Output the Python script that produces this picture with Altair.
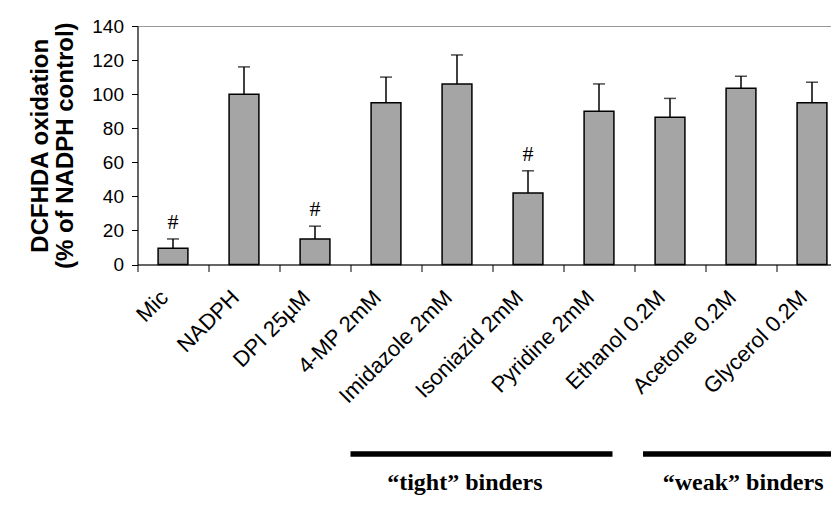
import altair as alt
import pandas as pd

# ---- data ----
categories = ["Mic", "NADPH", "DPI 25µM", "4-MP 2mM", "Imidazole 2mM",
              "Isoniazid 2mM", "Pyridine 2mM", "Ethanol 0.2M", "Acetone 0.2M",
              "Glycerol 0.2M"]
means = [9.5, 100, 15, 95, 106, 42, 90, 86.5, 103.5, 95]
errors = [5.5, 16, 7.5, 15, 17, 13, 16, 11, 7, 12]
signif = ["#", "", "#", "", "", "#", "", "", "", ""]
y_ticks = [0, 20, 40, 60, 80, 100, 120, 140]

group_names = ["“tight” binders", "“weak” binders"]
group_start = [3.0, 7.12]
group_end = [6.69, 10.5]
group_label_pos = [4.61, 8.53]
group_line_level = [-111.2, -111.2]
group_text_level = [-132.5, -132.5]

df = pd.DataFrame({"cat": categories, "mean": means, "err": errors, "sig": signif})
df["top"] = df["mean"] + df["err"]

ann = pd.DataFrame({"name": group_names, "x0": group_start, "x1": group_end,
                    "xt": group_label_pos, "yl": group_line_level,
                    "yt": group_text_level})

yscale = alt.Scale(domain=[0, 140], nice=False, zero=False)
yaxis = alt.Axis(values=y_ticks, grid=False, labelOverlap=False,
                 title=["DCFHDA oxidation", "(% of NADPH control)"],
                 titleFontSize=24, titleFontWeight="bold",
                 titleLineHeight=25, titlePadding=14,
                 labelFontSize=19, tickSize=6, labelPadding=8,
                 domainWidth=1, tickWidth=1)

base = alt.Chart(df).encode(
    x=alt.X("cat:N", sort=categories,
            scale=alt.Scale(paddingInner=0, paddingOuter=0),
            axis=alt.Axis(title=None, labelAngle=-45, labelFontSize=22,
                          tickSize=7, tickBand="extent", labelPadding=15,
                          labelOffset=-16, labelOverlap=False, domainWidth=1,
                          tickWidth=1))
)

bars = base.mark_bar(color="#a5a5a5", stroke="black", strokeWidth=1.5,
                     width=alt.RelativeBandSize(0.42)).encode(
    y=alt.Y("mean:Q", scale=yscale, axis=yaxis)
)
rules = base.mark_rule(color="black", strokeWidth=1.5).encode(
    y=alt.Y("mean:Q", scale=yscale, axis=yaxis), y2="top:Q")
caps = base.mark_tick(color="black", thickness=1.5, size=12).encode(
    y=alt.Y("top:Q", scale=yscale, axis=yaxis))
hashes = base.mark_text(font="Liberation Serif", fontSize=22,
                        baseline="bottom", dy=-5, color="black").encode(
    y=alt.Y("top:Q", scale=yscale, axis=yaxis), text="sig:N")

main = alt.layer(bars, rules, caps, hashes)

xq = alt.Scale(domain=[0, 10], nice=False, zero=False)
lines = alt.Chart(ann).mark_rule(color="black", strokeWidth=5.5).encode(
    x=alt.X("x0:Q", scale=xq, axis=None), x2="x1:Q",
    y=alt.Y("yl:Q", scale=yscale, axis=yaxis))
texts = alt.Chart(ann).mark_text(font="Liberation Serif", fontWeight="bold",
                                 fontSize=24, align="center",
                                 baseline="alphabetic", color="black").encode(
    x=alt.X("xt:Q", scale=xq, axis=None),
    y=alt.Y("yt:Q", scale=yscale, axis=yaxis), text="name:N")
annot = alt.layer(lines, texts)

chart = alt.layer(main, annot).resolve_scale(
    x="independent"
).properties(
    width=710, height=238.5,
    autosize=alt.AutoSizeParams(type="none"),
    padding={"left": 129.5, "top": 18, "right": -17, "bottom": 232},
).configure_view(stroke="#999999", strokeWidth=1).configure_axis(
    domainColor="black", tickColor="black", labelColor="black",
    titleColor="black", labelFont="Liberation Sans", titleFont="Liberation Sans"
)

chart.save("out.html", embed_options={"renderer": "svg", "actions": False})
